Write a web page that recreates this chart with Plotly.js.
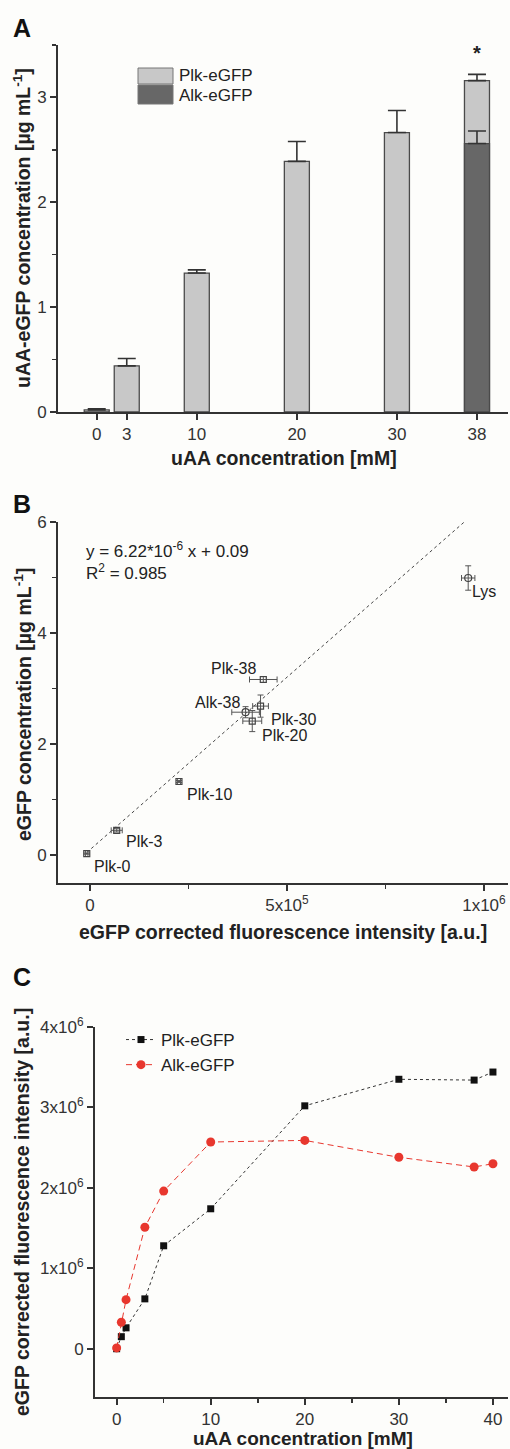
<!DOCTYPE html>
<html>
<head>
<meta charset="utf-8">
<script src="https://cdn.plot.ly/plotly-3.0.1.min.js"></script>
<style>html,body{margin:0;padding:0;background:#fdfdfb;}#chart{width:510px;height:1449px;}</style>
</head>
<body>
<div id="chart"></div>
<script>
// ---------- Panel A data ----------
const aaConc = [0, 3, 10, 20, 30, 38];
const plkYield = [0.02, 0.44, 1.325, 2.39, 2.665, 3.16];
const plkYieldErr = [0.01, 0.07, 0.03, 0.19, 0.21, 0.06];
const plkYieldErrMinus = [0, 0, 0, 0, 0, 0];
const alkConc = [38];
const alkYield = [2.56];
const alkYieldErr = [0.12];
const alkYieldErrMinus = [0];
const aTickVals = [0, 3, 10, 20, 30, 38];

// ---------- Panel B data ----------
const plkLabels = ['Plk-0', 'Plk-3', 'Plk-10', 'Plk-20', 'Plk-30', 'Plk-38'];
const plkFluor = [-8000, 68000, 226000, 412000, 433000, 440000];
const plkFluorErr = [3000, 14000, 4000, 24000, 20000, 35000];
const plkConcB = [0.02, 0.44, 1.32, 2.41, 2.68, 3.16];
const plkConcBErr = [0.01, 0.03, 0.02, 0.19, 0.2, 0.05];
const otherLabels = ['Alk-38', 'Lys'];
const otherFluor = [395000, 960000];
const otherFluorErr = [35000, 17000];
const otherConc = [2.57, 4.99];
const otherConcErr = [0.1, 0.22];
const fitX = [-8000, 950000];
const fitY = [0.04, 6.0];
const bTickVals = [0, 500000, 1000000];
const bTickText = ['0', '5x10<sup>5</sup>', '1x10<sup>6</sup>'];

// ---------- Panel C data ----------
const concC = [0, 0.5, 1, 3, 5, 10, 20, 30, 38, 40];
const plkFluorC = [0, 150000, 260000, 620000, 1280000, 1740000, 3020000, 3350000, 3340000, 3440000];
const alkFluorC = [10000, 330000, 610000, 1510000, 1960000, 2570000, 2590000, 2380000, 2260000, 2300000];
const cTickVals = [0, 1000000, 2000000, 3000000, 4000000];
const cTickText = ['0', '1x10<sup>6</sup>', '2x10<sup>6</sup>', '3x10<sup>6</sup>', '4x10<sup>6</sup>'];

const F = 'Liberation Sans, Arial, Helvetica, sans-serif';
const W = 510, H = 1449;
const px = v => v / W;
const py = v => 1 - v / H;

function ax(extra) {
  return Object.assign({
    showline: true, linecolor: '#333', linewidth: 2,
    ticks: 'outside', ticklen: 6, tickwidth: 2, tickcolor: '#333',
    showgrid: false, zeroline: false, automargin: false, fixedrange: true,
    tickfont: {family: F, size: 17, color: '#333'}
  }, extra);
}
const minorStyle = {ticks: 'outside', ticklen: 4, tickwidth: 1.5, tickcolor: '#333', showgrid: false};

const traces = [
  // Panel A
  {type: 'bar', x: aaConc, y: plkYield, width: 2.5, name: 'Plk-eGFP', showlegend: false,
   xaxis: 'x', yaxis: 'y',
   marker: {color: '#c8c8c8', line: {color: '#4a4a4a', width: 1.3}},
   error_y: {type: 'data', symmetric: false, array: plkYieldErr, arrayminus: plkYieldErrMinus,
             color: '#333', thickness: 1.6, width: 9}},
  {type: 'bar', x: alkConc, y: alkYield, width: 2.5, name: 'Alk-eGFP', showlegend: false,
   xaxis: 'x', yaxis: 'y',
   marker: {color: '#676767', line: {color: '#4a4a4a', width: 1.3}},
   error_y: {type: 'data', symmetric: false, array: alkYieldErr, arrayminus: alkYieldErrMinus,
             color: '#333', thickness: 1.6, width: 9}},
  // Panel B
  {type: 'scatter', mode: 'lines', x: fitX, y: fitY, showlegend: false, xaxis: 'x2', yaxis: 'y2',
   line: {color: '#444', width: 1, dash: 'dot'}, hoverinfo: 'skip'},
  {type: 'scatter', mode: 'markers', x: plkFluor, y: plkConcB, text: plkLabels, showlegend: false,
   xaxis: 'x2', yaxis: 'y2',
   marker: {symbol: 'square-open', size: 6, color: '#444', line: {width: 1.2}},
   error_x: {type: 'data', array: plkFluorErr, color: '#555', thickness: 1, width: 3},
   error_y: {type: 'data', array: plkConcBErr, color: '#555', thickness: 1, width: 3}},
  {type: 'scatter', mode: 'markers', x: otherFluor, y: otherConc, text: otherLabels, showlegend: false,
   xaxis: 'x2', yaxis: 'y2',
   marker: {symbol: 'circle-open', size: 7, color: '#444', line: {width: 1.2}},
   error_x: {type: 'data', array: otherFluorErr, color: '#555', thickness: 1, width: 3},
   error_y: {type: 'data', array: otherConcErr, color: '#555', thickness: 1, width: 3}},
  // Panel C
  {type: 'scatter', mode: 'lines+markers', x: concC, y: plkFluorC, name: 'Plk-eGFP',
   xaxis: 'x3', yaxis: 'y3',
   line: {color: '#333', width: 1, dash: '3px,3px'},
   marker: {symbol: 'square', size: 7, color: '#111'}},
  {type: 'scatter', mode: 'lines+markers', x: concC, y: alkFluorC, name: 'Alk-eGFP',
   xaxis: 'x3', yaxis: 'y3',
   line: {color: '#e8372e', width: 1, dash: '6px,4px'},
   marker: {symbol: 'circle', size: 9, color: '#e8372e'}}
];

// label annotations for panel B (anchored to the data points)
const bLabelStyle = [
  {xanchor: 'left', xshift: 5, yshift: -13},
  {xanchor: 'left', xshift: 7, yshift: -11},
  {xanchor: 'left', xshift: 6, yshift: -13},
  {xanchor: 'left', xshift: 8, yshift: -14},
  {xanchor: 'left', xshift: 8, yshift: -13},
  {xanchor: 'right', xshift: -5, yshift: 11}
];
const otherLabelStyle = [
  {xanchor: 'right', xshift: -4, yshift: 10},
  {xanchor: 'left', xshift: 2, yshift: -13}
];
const annotations = [];
plkLabels.forEach((t, i) => annotations.push(Object.assign({
  xref: 'x2', yref: 'y2', x: plkFluor[i], y: plkConcB[i], text: t, showarrow: false,
  yanchor: 'middle', font: {family: F, size: 16, color: '#222'}}, bLabelStyle[i])));
otherLabels.forEach((t, i) => annotations.push(Object.assign({
  xref: 'x2', yref: 'y2', x: otherFluor[i], y: otherConc[i], text: t, showarrow: false,
  yanchor: 'middle', font: {family: F, size: 16, color: '#222'}}, otherLabelStyle[i])));

const titleFont = {family: F, size: 19.5, color: '#222'};
function ptext(x, y, text, opt) {
  return Object.assign({xref: 'paper', yref: 'paper', x: px(x), y: py(y), text: text, showarrow: false,
    xanchor: 'center', yanchor: 'middle'}, opt);
}
annotations.push(
  // panel letters
  ptext(11, 28, '<b>A</b>', {xanchor: 'left', font: {family: F, size: 25, color: '#111'}}),
  ptext(11, 504, '<b>B</b>', {xanchor: 'left', font: {family: F, size: 25, color: '#111'}}),
  ptext(11, 977, '<b>C</b>', {xanchor: 'left', font: {family: F, size: 25, color: '#111'}}),
  // axis titles
  ptext(22, 228, '<b>uAA-eGFP concentration [µg mL<sup>-1</sup>]</b>', {textangle: -90, font: titleFont}),
  ptext(284, 458, '<b>uAA concentration [mM]</b>', {font: titleFont}),
  ptext(23, 705, '<b>eGFP concentration [µg mL<sup>-1</sup>]</b>', {textangle: -90, font: titleFont}),
  ptext(283, 932, '<b>eGFP corrected fluorescence intensity [a.u.]</b>', {font: titleFont}),
  ptext(22, 1212, '<b>eGFP corrected fluorescence intensity [a.u.]</b>', {textangle: -90, font: titleFont}),
  ptext(303, 1438, '<b>uAA concentration [mM]</b>', {borderpad: 0, font: {family: F, size: 19, color: '#222'}}),
  // asterisk
  {xref: 'x', yref: 'y', x: 38, y: 3.42, text: '<b>*</b>', showarrow: false,
   font: {family: F, size: 20, color: '#222'}},
  // panel A legend text
  ptext(177, 76, 'Plk-eGFP', {xanchor: 'left', font: {family: F, size: 17, color: '#222'}}),
  ptext(177, 95, 'Alk-eGFP', {xanchor: 'left', font: {family: F, size: 17, color: '#222'}}),
  // equation in panel B
  ptext(84, 550, 'y = 6.22*10<sup>-6</sup> x + 0.09', {xanchor: 'left', font: {family: F, size: 17, color: '#222'}}),
  ptext(84, 572, 'R<sup>2</sup> = 0.985', {xanchor: 'left', font: {family: F, size: 17, color: '#222'}})
);

const shapes = [
  {type: 'rect', xref: 'paper', yref: 'paper', x0: px(138), x1: px(173), y0: py(84), y1: py(68),
   fillcolor: '#c8c8c8', line: {color: '#777', width: 1}},
  {type: 'rect', xref: 'paper', yref: 'paper', x0: px(138), x1: px(173), y0: py(104), y1: py(85),
   fillcolor: '#676767', line: {color: '#777', width: 1}}
];

const layout = {
  width: W, height: H,
  margin: {l: 0, r: 0, t: 0, b: 0},
  paper_bgcolor: '#fdfdfb', plot_bgcolor: '#fdfdfb',
  font: {family: F, color: '#222'},
  barmode: 'overlay',
  showlegend: true,
  legend: {x: px(121), y: py(1022), xanchor: 'left', yanchor: 'top', bgcolor: 'rgba(0,0,0,0)',
           font: {family: F, size: 17, color: '#222'}, tracegroupgap: 0, itemwidth: 30},
  xaxis: ax({domain: [px(58), px(508)], anchor: 'y', range: [-3.87, 41.1],
             tickmode: 'array', tickvals: aTickVals}),
  yaxis: ax({domain: [py(412), py(45)], anchor: 'x', range: [0, 3.5],
             tickmode: 'array', tickvals: [0, 1, 2, 3],
             minor: Object.assign({dtick: 0.5, tick0: 0}, minorStyle)}),
  xaxis2: ax({domain: [px(58), px(508)], anchor: 'y2', range: [-81000, 1061000],
              tickmode: 'array', tickvals: bTickVals, ticktext: bTickText,
              minor: Object.assign({tickmode: 'array', tickvals: [250000, 750000]}, minorStyle)}),
  yaxis2: ax({domain: [py(883), py(522)], anchor: 'x2', range: [-0.51, 6],
              tickmode: 'array', tickvals: [0, 2, 4, 6],
              minor: Object.assign({dtick: 1, tick0: 0}, minorStyle)}),
  xaxis3: ax({domain: [px(95), px(508)], anchor: 'y3', range: [-2.3, 41.6],
              tickmode: 'array', tickvals: [0, 10, 20, 30, 40],
              minor: Object.assign({dtick: 5, tick0: 0}, minorStyle)}),
  yaxis3: ax({domain: [py(1397), py(1027)], anchor: 'x3', range: [-600000, 4000000],
              tickmode: 'array', tickvals: cTickVals, ticktext: cTickText}),
  annotations: annotations,
  shapes: shapes
};

Plotly.newPlot('chart', traces, layout, {displayModeBar: false, staticPlot: true});
</script>
</body>
</html>
